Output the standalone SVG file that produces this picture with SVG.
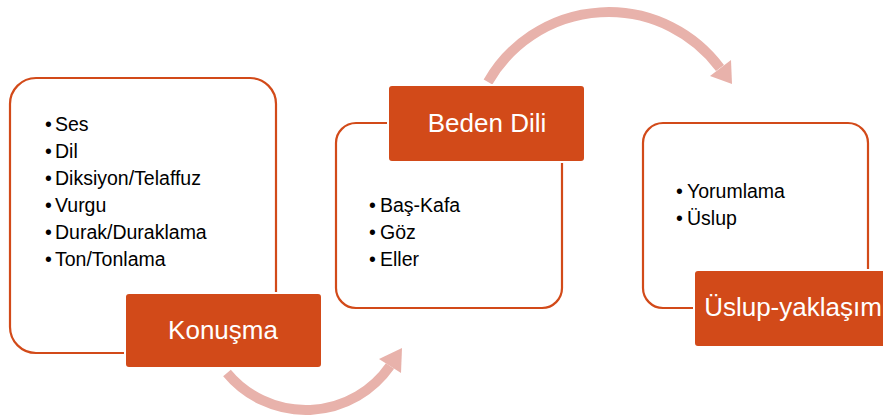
<svg xmlns="http://www.w3.org/2000/svg" width="883" height="417" viewBox="0 0 883 417">
<style>
.outline{fill:#fff;stroke:#D24A19;stroke-width:2.2}
.head{fill:#D24A19;stroke:#fff;stroke-width:2}
.ht{font-family:"Liberation Sans",Arial,sans-serif;font-size:26px;fill:#fff;text-anchor:middle}
.bt{font-family:"Liberation Sans",Arial,sans-serif;font-size:19.5px;fill:#000}
.arc{fill:none;stroke:#E8B2AB;stroke-width:10}
.ah{fill:#E8B2AB}
</style>
<rect width="883" height="417" fill="#fff"/>
<g id="connectors">
<path class="arc" d="M 227 373 A 102.5 102.5 0 0 0 390 366"/>
<polygon class="ah" points="402,348 379,359 401,373"/>
<path class="arc" d="M 488 82 A 139 139 0 0 1 720 68"/>
<polygon class="ah" points="732,84 710,76 731,60"/>
</g>
<g id="node-konusma">
<rect class="outline" x="10" y="78" width="266" height="275" rx="26"/>
<text class="bt"><tspan x="45" y="131">•</tspan><tspan x="55">Ses</tspan></text>
<text class="bt"><tspan x="45" y="158">•</tspan><tspan x="55">Dil</tspan></text>
<text class="bt"><tspan x="45" y="185">•</tspan><tspan x="55">Diksiyon/Telaffuz</tspan></text>
<text class="bt"><tspan x="45" y="212">•</tspan><tspan x="55">Vurgu</tspan></text>
<text class="bt"><tspan x="45" y="239">•</tspan><tspan x="55">Durak/Duraklama</tspan></text>
<text class="bt"><tspan x="45" y="266">•</tspan><tspan x="55">Ton/Tonlama</tspan></text>
<rect class="head" x="125" y="293" width="197" height="75" rx="4"/>
<text class="ht" x="223" y="339">Konuşma</text>
</g>
<g id="node-beden">
<rect class="outline" x="336" y="123" width="226" height="185" rx="20"/>
<text class="bt"><tspan x="369" y="212">•</tspan><tspan x="380">Baş-Kafa</tspan></text>
<text class="bt"><tspan x="369" y="239">•</tspan><tspan x="380">Göz</tspan></text>
<text class="bt"><tspan x="369" y="266">•</tspan><tspan x="380">Eller</tspan></text>
<rect class="head" x="388" y="85" width="197" height="77" rx="4"/>
<text class="ht" x="487" y="132">Beden Dili</text>
</g>
<g id="node-uslup">
<rect class="outline" x="643" y="123" width="225" height="185" rx="20"/>
<text class="bt"><tspan x="676" y="198">•</tspan><tspan x="687">Yorumlama</tspan></text>
<text class="bt"><tspan x="676" y="225">•</tspan><tspan x="687">Üslup</tspan></text>
<rect class="head" x="694" y="270" width="197" height="77" rx="4"/>
<text class="ht" x="793" y="316">Üslup-yaklaşım</text>
</g>
</svg>
